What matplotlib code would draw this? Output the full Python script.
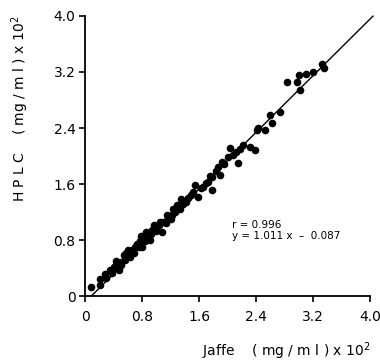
import numpy as np
import matplotlib
matplotlib.use('Agg')
import matplotlib.pyplot as plt

# Data (x 10^2 mg/ml)
jaffe = [0.08, 0.21, 0.21, 0.28, 0.30, 0.35, 0.38, 0.40, 0.43, 0.44, 0.47, 0.50,
         0.51, 0.54, 0.56, 0.58, 0.60, 0.63, 0.66, 0.68, 0.70, 0.73, 0.75, 0.77,
         0.78, 0.80, 0.82, 0.84, 0.86, 0.87, 0.89, 0.91, 0.92, 0.94, 0.96, 0.98,
         1.00, 1.03, 1.05, 1.08, 1.10, 1.13, 1.15, 1.17, 1.20, 1.22, 1.24, 1.26,
         1.29, 1.33,
         1.35, 1.38, 1.42, 1.45, 1.48, 1.52, 1.54, 1.59, 1.62, 1.66, 1.70, 1.73,
         1.75, 1.78, 1.78, 1.83, 1.87, 1.89, 1.92, 1.95, 2.00, 2.04, 2.08, 2.12,
         2.15, 2.18, 2.21, 2.32, 2.39,
         2.41, 2.43, 2.53, 2.59, 2.62, 2.73, 2.83, 2.98, 3.00, 3.02, 3.10, 3.20,
         3.32, 3.35]
hplc = [0.13, 0.16, 0.25, 0.32, 0.26, 0.37, 0.33, 0.42, 0.50, 0.44, 0.37, 0.44,
        0.49, 0.59, 0.52, 0.61, 0.66, 0.56, 0.66, 0.62, 0.70, 0.75, 0.70, 0.78,
        0.86, 0.70, 0.82, 0.78, 0.92, 0.85, 0.90, 0.80, 0.88, 0.94, 1.02, 0.97,
        0.93, 1.01, 1.06, 0.92, 1.06, 1.05, 1.16, 1.11, 1.10, 1.16, 1.25, 1.20,
        1.30, 1.25,
        1.38, 1.32, 1.34, 1.40, 1.45, 1.49, 1.59, 1.42, 1.55, 1.56, 1.62, 1.63,
        1.72, 1.70, 1.51, 1.78, 1.85, 1.73, 1.92, 1.88, 1.99, 2.11, 2.02, 2.06,
        1.90, 2.10, 2.16, 2.13, 2.08,
        2.37, 2.40, 2.37, 2.58, 2.47, 2.63, 3.06, 3.05, 3.16, 2.94, 3.17, 3.20,
        3.31, 3.25]

slope, intercept = 1.011, -0.087
ticks = [0, 0.8, 1.6, 2.4, 3.2, 4.0]
tick_labels = ['0', '0.8', '1.6', '2.4', '3.2', '4.0']

fig = plt.figure(figsize=(3.8, 3.62), dpi=100)
ax = fig.add_axes([0.224, 0.182, 0.75, 0.774])

ax.scatter(jaffe, hplc, s=30, color='black', zorder=3, linewidths=0)

# Regression line
xl = np.array([-intercept / slope, 4.04])
ax.plot(xl, slope * xl + intercept, color='black', lw=1.0, clip_on=False)

ax.text(2.06, 1.01, 'r = 0.996', fontsize=7.5, va='center')
ax.text(2.06, 0.86, 'y = 1.011 x  \u2013  0.087', fontsize=7.5, va='center')

ax.set_xlim(0, 4.0)
ax.set_ylim(0, 4.0)
ax.set_xticks(ticks)
ax.set_xticklabels(tick_labels)
ax.set_yticks(ticks)
ax.set_yticklabels(tick_labels)
ax.tick_params(direction='out', length=4, width=1.2, labelsize=10)
ax.tick_params(axis='x', pad=6)
ax.tick_params(axis='y', pad=3)

for s in ['top', 'right']:
    ax.spines[s].set_visible(False)
for s in ['left', 'bottom']:
    ax.spines[s].set_linewidth(1.3)

ax.set_xlabel('Jaffe    ( mg / m l ) x 10$^2$', fontsize=10, loc='right', labelpad=12)
ax.set_ylabel('H P L C    ( mg / m l ) x 10$^2$', fontsize=10, loc='top', labelpad=16)

fig.savefig('out.png', dpi=100)
